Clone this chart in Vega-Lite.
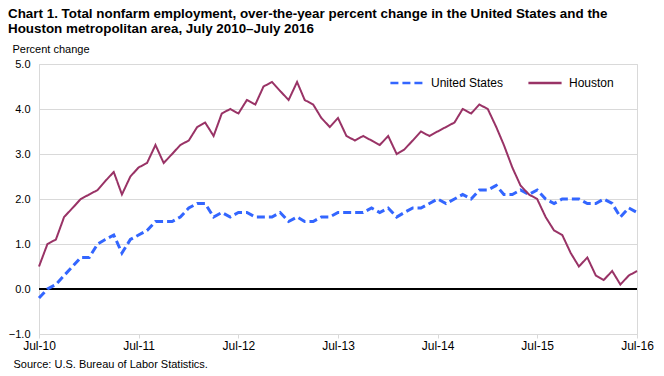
{
  "$schema": "https://vega.github.io/schema/vega-lite/v6.json",
  "autosize": {"type": "none"},
  "padding": {"left": 39, "top": 64, "right": 27, "bottom": 42},
  "width": 598,
  "height": 270,
  "background": "white",
  "title": {
    "text": ["Chart 1. Total nonfarm employment, over-the-year percent change in the United States and the", "Houston  metropolitan area, July 2010\u2013July  2016"],
    "anchor": "start",
    "frame": "group",
    "dx": -31,
    "dy": -4,
    "fontSize": 13.4,
    "fontWeight": "bold",
    "font": "Liberation Sans",
    "color": "#000000",
    "lineHeight": 15,
    "offset": 4
  },
  "config": {
    "font": "Liberation Sans",
    "view": {"stroke": "#d9d9d9", "strokeWidth": 1},
    "axis": {"labelColor": "#000000", "titleColor": "#000000", "labelFont": "Liberation Sans", "titleFont": "Liberation Sans"},
    "legend": {
      "title": null,
      "orient": "none",
      "legendX": 350,
      "legendY": 1,
      "direction": "horizontal",
      "symbolType": "stroke",
      "symbolSize": 1100,
      "symbolStrokeWidth": 2.5,
      "labelFontSize": 12,
      "labelColor": "#000000",
      "labelOffset": 6,
      "columnPadding": 19
    }
  },
  "data": {"values": [
    {"month": "2010-07-01", "series": "United States", "value": -0.2},
    {"month": "2010-08-01", "series": "United States", "value": 0.0},
    {"month": "2010-09-01", "series": "United States", "value": 0.1},
    {"month": "2010-10-01", "series": "United States", "value": 0.3},
    {"month": "2010-11-01", "series": "United States", "value": 0.5},
    {"month": "2010-12-01", "series": "United States", "value": 0.7},
    {"month": "2011-01-01", "series": "United States", "value": 0.7},
    {"month": "2011-02-01", "series": "United States", "value": 1.0},
    {"month": "2011-03-01", "series": "United States", "value": 1.1},
    {"month": "2011-04-01", "series": "United States", "value": 1.2},
    {"month": "2011-05-01", "series": "United States", "value": 0.8},
    {"month": "2011-06-01", "series": "United States", "value": 1.1},
    {"month": "2011-07-01", "series": "United States", "value": 1.2},
    {"month": "2011-08-01", "series": "United States", "value": 1.3},
    {"month": "2011-09-01", "series": "United States", "value": 1.5},
    {"month": "2011-10-01", "series": "United States", "value": 1.5},
    {"month": "2011-11-01", "series": "United States", "value": 1.5},
    {"month": "2011-12-01", "series": "United States", "value": 1.6},
    {"month": "2012-01-01", "series": "United States", "value": 1.8},
    {"month": "2012-02-01", "series": "United States", "value": 1.9},
    {"month": "2012-03-01", "series": "United States", "value": 1.9},
    {"month": "2012-04-01", "series": "United States", "value": 1.6},
    {"month": "2012-05-01", "series": "United States", "value": 1.7},
    {"month": "2012-06-01", "series": "United States", "value": 1.6},
    {"month": "2012-07-01", "series": "United States", "value": 1.7},
    {"month": "2012-08-01", "series": "United States", "value": 1.7},
    {"month": "2012-09-01", "series": "United States", "value": 1.6},
    {"month": "2012-10-01", "series": "United States", "value": 1.6},
    {"month": "2012-11-01", "series": "United States", "value": 1.6},
    {"month": "2012-12-01", "series": "United States", "value": 1.7},
    {"month": "2013-01-01", "series": "United States", "value": 1.5},
    {"month": "2013-02-01", "series": "United States", "value": 1.6},
    {"month": "2013-03-01", "series": "United States", "value": 1.5},
    {"month": "2013-04-01", "series": "United States", "value": 1.5},
    {"month": "2013-05-01", "series": "United States", "value": 1.6},
    {"month": "2013-06-01", "series": "United States", "value": 1.6},
    {"month": "2013-07-01", "series": "United States", "value": 1.7},
    {"month": "2013-08-01", "series": "United States", "value": 1.7},
    {"month": "2013-09-01", "series": "United States", "value": 1.7},
    {"month": "2013-10-01", "series": "United States", "value": 1.7},
    {"month": "2013-11-01", "series": "United States", "value": 1.8},
    {"month": "2013-12-01", "series": "United States", "value": 1.7},
    {"month": "2014-01-01", "series": "United States", "value": 1.8},
    {"month": "2014-02-01", "series": "United States", "value": 1.6},
    {"month": "2014-03-01", "series": "United States", "value": 1.7},
    {"month": "2014-04-01", "series": "United States", "value": 1.8},
    {"month": "2014-05-01", "series": "United States", "value": 1.8},
    {"month": "2014-06-01", "series": "United States", "value": 1.9},
    {"month": "2014-07-01", "series": "United States", "value": 2.0},
    {"month": "2014-08-01", "series": "United States", "value": 1.9},
    {"month": "2014-09-01", "series": "United States", "value": 2.0},
    {"month": "2014-10-01", "series": "United States", "value": 2.1},
    {"month": "2014-11-01", "series": "United States", "value": 2.0},
    {"month": "2014-12-01", "series": "United States", "value": 2.2},
    {"month": "2015-01-01", "series": "United States", "value": 2.2},
    {"month": "2015-02-01", "series": "United States", "value": 2.3},
    {"month": "2015-03-01", "series": "United States", "value": 2.1},
    {"month": "2015-04-01", "series": "United States", "value": 2.1},
    {"month": "2015-05-01", "series": "United States", "value": 2.2},
    {"month": "2015-06-01", "series": "United States", "value": 2.1},
    {"month": "2015-07-01", "series": "United States", "value": 2.2},
    {"month": "2015-08-01", "series": "United States", "value": 2.0},
    {"month": "2015-09-01", "series": "United States", "value": 1.9},
    {"month": "2015-10-01", "series": "United States", "value": 2.0},
    {"month": "2015-11-01", "series": "United States", "value": 2.0},
    {"month": "2015-12-01", "series": "United States", "value": 2.0},
    {"month": "2016-01-01", "series": "United States", "value": 1.9},
    {"month": "2016-02-01", "series": "United States", "value": 1.9},
    {"month": "2016-03-01", "series": "United States", "value": 2.0},
    {"month": "2016-04-01", "series": "United States", "value": 1.9},
    {"month": "2016-05-01", "series": "United States", "value": 1.6},
    {"month": "2016-06-01", "series": "United States", "value": 1.8},
    {"month": "2016-07-01", "series": "United States", "value": 1.7},
    {"month": "2010-07-01", "series": "Houston", "value": 0.5},
    {"month": "2010-08-01", "series": "Houston", "value": 1.0},
    {"month": "2010-09-01", "series": "Houston", "value": 1.1},
    {"month": "2010-10-01", "series": "Houston", "value": 1.6},
    {"month": "2010-11-01", "series": "Houston", "value": 1.8},
    {"month": "2010-12-01", "series": "Houston", "value": 2.0},
    {"month": "2011-01-01", "series": "Houston", "value": 2.1},
    {"month": "2011-02-01", "series": "Houston", "value": 2.2},
    {"month": "2011-03-01", "series": "Houston", "value": 2.4},
    {"month": "2011-04-01", "series": "Houston", "value": 2.6},
    {"month": "2011-05-01", "series": "Houston", "value": 2.1},
    {"month": "2011-06-01", "series": "Houston", "value": 2.5},
    {"month": "2011-07-01", "series": "Houston", "value": 2.7},
    {"month": "2011-08-01", "series": "Houston", "value": 2.8},
    {"month": "2011-09-01", "series": "Houston", "value": 3.2},
    {"month": "2011-10-01", "series": "Houston", "value": 2.8},
    {"month": "2011-11-01", "series": "Houston", "value": 3.0},
    {"month": "2011-12-01", "series": "Houston", "value": 3.2},
    {"month": "2012-01-01", "series": "Houston", "value": 3.3},
    {"month": "2012-02-01", "series": "Houston", "value": 3.6},
    {"month": "2012-03-01", "series": "Houston", "value": 3.7},
    {"month": "2012-04-01", "series": "Houston", "value": 3.4},
    {"month": "2012-05-01", "series": "Houston", "value": 3.9},
    {"month": "2012-06-01", "series": "Houston", "value": 4.0},
    {"month": "2012-07-01", "series": "Houston", "value": 3.9},
    {"month": "2012-08-01", "series": "Houston", "value": 4.2},
    {"month": "2012-09-01", "series": "Houston", "value": 4.1},
    {"month": "2012-10-01", "series": "Houston", "value": 4.5},
    {"month": "2012-11-01", "series": "Houston", "value": 4.6},
    {"month": "2012-12-01", "series": "Houston", "value": 4.4},
    {"month": "2013-01-01", "series": "Houston", "value": 4.2},
    {"month": "2013-02-01", "series": "Houston", "value": 4.6},
    {"month": "2013-03-01", "series": "Houston", "value": 4.2},
    {"month": "2013-04-01", "series": "Houston", "value": 4.1},
    {"month": "2013-05-01", "series": "Houston", "value": 3.8},
    {"month": "2013-06-01", "series": "Houston", "value": 3.6},
    {"month": "2013-07-01", "series": "Houston", "value": 3.8},
    {"month": "2013-08-01", "series": "Houston", "value": 3.4},
    {"month": "2013-09-01", "series": "Houston", "value": 3.3},
    {"month": "2013-10-01", "series": "Houston", "value": 3.4},
    {"month": "2013-11-01", "series": "Houston", "value": 3.3},
    {"month": "2013-12-01", "series": "Houston", "value": 3.2},
    {"month": "2014-01-01", "series": "Houston", "value": 3.4},
    {"month": "2014-02-01", "series": "Houston", "value": 3.0},
    {"month": "2014-03-01", "series": "Houston", "value": 3.1},
    {"month": "2014-04-01", "series": "Houston", "value": 3.3},
    {"month": "2014-05-01", "series": "Houston", "value": 3.5},
    {"month": "2014-06-01", "series": "Houston", "value": 3.4},
    {"month": "2014-07-01", "series": "Houston", "value": 3.5},
    {"month": "2014-08-01", "series": "Houston", "value": 3.6},
    {"month": "2014-09-01", "series": "Houston", "value": 3.7},
    {"month": "2014-10-01", "series": "Houston", "value": 4.0},
    {"month": "2014-11-01", "series": "Houston", "value": 3.9},
    {"month": "2014-12-01", "series": "Houston", "value": 4.1},
    {"month": "2015-01-01", "series": "Houston", "value": 4.0},
    {"month": "2015-02-01", "series": "Houston", "value": 3.6},
    {"month": "2015-03-01", "series": "Houston", "value": 3.2},
    {"month": "2015-04-01", "series": "Houston", "value": 2.7},
    {"month": "2015-05-01", "series": "Houston", "value": 2.3},
    {"month": "2015-06-01", "series": "Houston", "value": 2.1},
    {"month": "2015-07-01", "series": "Houston", "value": 2.0},
    {"month": "2015-08-01", "series": "Houston", "value": 1.6},
    {"month": "2015-09-01", "series": "Houston", "value": 1.3},
    {"month": "2015-10-01", "series": "Houston", "value": 1.2},
    {"month": "2015-11-01", "series": "Houston", "value": 0.8},
    {"month": "2015-12-01", "series": "Houston", "value": 0.5},
    {"month": "2016-01-01", "series": "Houston", "value": 0.7},
    {"month": "2016-02-01", "series": "Houston", "value": 0.3},
    {"month": "2016-03-01", "series": "Houston", "value": 0.2},
    {"month": "2016-04-01", "series": "Houston", "value": 0.4},
    {"month": "2016-05-01", "series": "Houston", "value": 0.1},
    {"month": "2016-06-01", "series": "Houston", "value": 0.3},
    {"month": "2016-07-01", "series": "Houston", "value": 0.4}
  ]},
  "encoding": {
    "x": {
      "field": "month",
      "type": "temporal",
      "scale": {"type": "utc", "domain": [{"year": 2010, "month": 7, "date": 1, "utc": true}, {"year": 2016, "month": 7, "date": 1, "utc": true}]},
      "axis": {
        "values": [
          {"year": 2010, "month": 7, "date": 1, "utc": true},
          {"year": 2011, "month": 7, "date": 1, "utc": true},
          {"year": 2012, "month": 7, "date": 1, "utc": true},
          {"year": 2013, "month": 7, "date": 1, "utc": true},
          {"year": 2014, "month": 7, "date": 1, "utc": true},
          {"year": 2015, "month": 7, "date": 1, "utc": true},
          {"year": 2016, "month": 7, "date": 1, "utc": true}
        ],
        "format": "%b-%y",
        "grid": false,
        "domainColor": "#d9d9d9",
        "tickColor": "#d9d9d9",
        "tickSize": 4,
        "labelFontSize": 12,
        "labelPadding": 2,
        "labelOverlap": false,
        "labelFlush": false,
        "labelBound": false,
        "title": "Source: U.S. Bureau of Labor Statistics.",
        "titleFontSize": 11,
        "titleFontWeight": "normal",
        "titleAnchor": "start",
        "titleAlign": "left",
        "titleBaseline": "alphabetic",
        "titleX": -26,
        "titleY": 33
      }
    },
    "y": {
      "field": "value",
      "type": "quantitative",
      "scale": {"domain": [-1, 5], "nice": false, "zero": false},
      "axis": {
        "values": [-1, 0, 1, 2, 3, 4, 5],
        "format": ".1f",
        "ticks": false,
        "domainColor": "#d9d9d9",
        "gridColor": "#d9d9d9",
        "labelFontSize": 11,
        "labelPadding": 9,
        "title": "Percent change",
        "titleFontSize": 11,
        "titleFontWeight": "normal",
        "titleAngle": 0,
        "titleAlign": "left",
        "titleBaseline": "alphabetic",
        "titleX": -27,
        "titleY": -12
      }
    },
    "color": {
      "field": "series",
      "type": "nominal",
      "scale": {"domain": ["United States", "Houston"], "range": ["#3366ff", "#993366"]}
    },
    "strokeDash": {
      "field": "series",
      "type": "nominal",
      "scale": {"domain": ["United States", "Houston"], "range": [[8, 4], [1, 0]]}
    }
  },
  "layer": [
    {
      "data": {"values": [{"zero": 0}]},
      "mark": {"type": "rule", "color": "#000000", "strokeWidth": 2},
      "encoding": {"y": {"field": "zero", "type": "quantitative"}, "x": null, "color": null, "strokeDash": null}
    },
    {
      "transform": [{"filter": "datum.series === 'United States'"}],
      "mark": {"type": "line", "strokeWidth": 3}
    },
    {
      "transform": [{"filter": "datum.series === 'Houston'"}],
      "mark": {"type": "line", "strokeWidth": 2}
    }
  ]
}
